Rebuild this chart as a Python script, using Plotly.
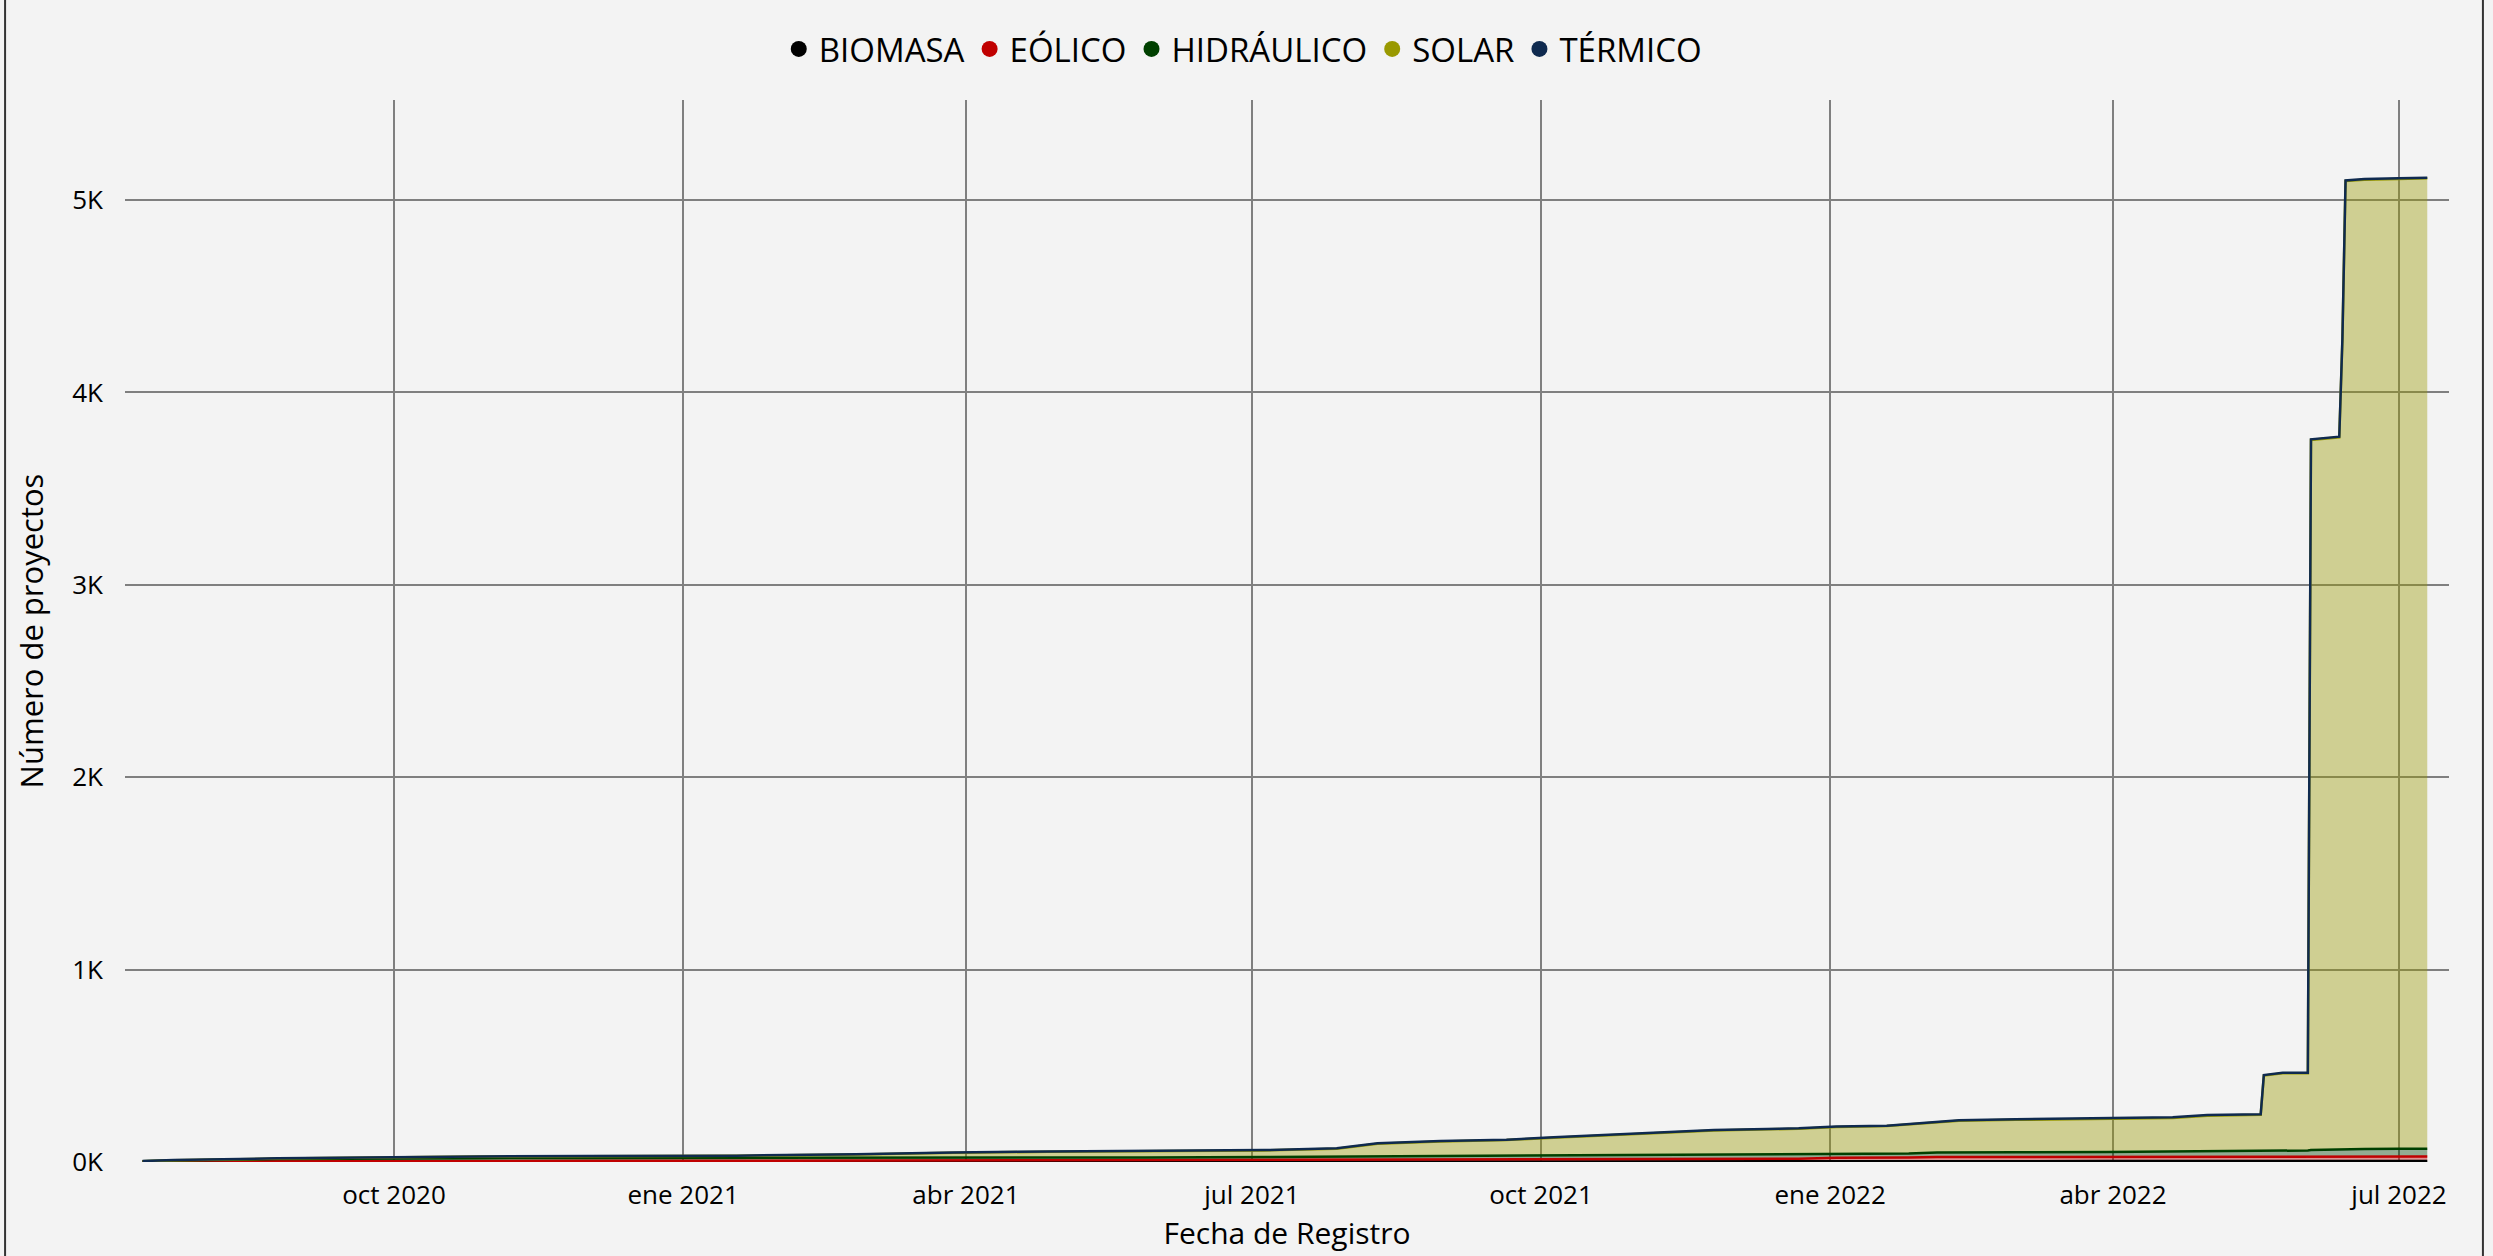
import plotly.graph_objects as go

# ---------------- data (cumulative number of projects per technology) -------------
fechas = [
    "2020-07-13", "2020-07-23", "2020-08-25", "2020-09-09", "2020-09-28", "2020-10-28",
    "2020-12-01", "2021-01-18", "2021-02-25", "2021-03-17", "2021-03-28", "2021-04-27",
    "2021-05-28", "2021-07-05", "2021-07-28", "2021-08-10", "2021-08-30", "2021-09-20",
    "2021-10-05", "2021-10-21", "2021-10-26", "2021-11-11", "2021-11-25", "2021-12-22",
    "2022-01-03", "2022-01-19", "2022-01-26", "2022-02-04", "2022-02-11", "2022-03-01",
    "2022-03-30", "2022-04-20", "2022-05-01", "2022-05-18", "2022-05-19", "2022-05-25",
    "2022-06-02", "2022-06-03", "2022-06-12", "2022-06-13", "2022-06-14", "2022-06-20",
    "2022-07-01", "2022-07-10",
]
biomasa = [1, 1, 1, 1, 2, 2, 2, 2, 2, 2, 2, 2, 2, 3, 3, 3, 3, 3, 3, 3, 3, 4, 4, 4,
           4, 4, 4, 4, 4, 4, 5, 5, 5, 5, 5, 5, 5, 5, 5, 5, 5, 5, 5, 5]
eolico = [1, 2, 3, 3, 3, 3, 4, 4, 5, 5, 6, 6, 7, 7, 7, 8, 8, 9, 9, 10, 10, 10, 11, 13,
          18, 18, 19, 22, 22, 22, 21, 22, 22, 22, 22, 23, 23, 23, 23, 23, 23, 23, 23, 23]
hidraulico = [2, 5, 11, 13, 14, 15, 15, 15, 15, 15, 15, 15, 15, 16, 18, 19, 20, 20, 21,
              21, 22, 22, 23, 23, 20, 21, 21, 23, 24, 25, 26, 27, 28, 29, 31, 32, 32, 34,
              38, 40, 40, 40, 41, 41]
solar = [0, 1, 3, 4, 6, 8, 9, 11, 17, 24, 25, 30, 33, 34, 41, 65, 76, 82, 93, 103, 107,
         116, 126, 133, 140, 144, 152, 158, 164, 168, 172, 175, 186, 189, 391, 401, 401,
         3691, 3701, 4208, 5031, 5038, 5041, 5044]
termico = [1, 1, 1, 1, 1, 1, 1, 1, 1, 1, 2, 2, 2, 2, 2, 2, 2, 2, 2, 2, 2, 2, 2, 2,
           2, 2, 2, 3, 3, 3, 3, 3, 3, 3, 3, 3, 3, 3, 3, 3, 3, 3, 3, 3]

series_nombres = ["BIOMASA", "EÓLICO", "HIDRÁULICO", "SOLAR", "TÉRMICO"]
series_valores = [biomasa, eolico, hidraulico, solar, termico]
series_colores = ["#000000", "#c00000", "#004000", "#999900", "#0f2a4f"]

y_tickvals = [0, 1000, 2000, 3000, 4000, 5000]
y_ticktext = ["0K", "1K", "2K", "3K", "4K", "5K"]
x_tickvals = ["2020-10-01", "2021-01-01", "2021-04-01", "2021-07-01",
              "2021-10-01", "2022-01-01", "2022-04-01", "2022-07-01"]
x_ticktext = ["oct 2020", "ene 2021", "abr 2021", "jul 2021",
              "oct 2021", "ene 2022", "abr 2022", "jul 2022"]


def rgba(hexc, a):
    h = hexc.lstrip("#")
    r, g, b = int(h[0:2], 16), int(h[2:4], 16), int(h[4:6], 16)
    return f"rgba({r},{g},{b},{a})"


FONT = "Open Sans, Noto Sans, DejaVu Sans, sans-serif"
BG = "#f3f3f3"
GRID = "#7f7f7f"

fig = go.Figure()
for nombre, vals, col in zip(series_nombres, series_valores, series_colores):
    fig.add_trace(go.Scatter(
        x=fechas, y=vals, name=nombre, mode="lines", stackgroup="one",
        line=dict(color=col, width=2.5), fillcolor=rgba(col, 0.4),
        legendgroup=nombre, showlegend=False,
    ))
# legend entries drawn as round markers
for nombre, col in zip(series_nombres, series_colores):
    fig.add_trace(go.Scatter(
        x=[None], y=[None], name=nombre, mode="markers",
        marker=dict(color=col, size=19, symbol="circle"),
        legendgroup=nombre, showlegend=True,
    ))

fig.update_layout(
    width=2493, height=1256,
    paper_bgcolor=BG, plot_bgcolor=BG,
    margin=dict(l=125, r=44, t=100, b=94, autoexpand=False),
    font=dict(family=FONT, size=26, color="#000000"),
    showlegend=True,
    legend=dict(
        orientation="h", xref="container", yref="container",
        x=0.4985, xanchor="center", y=1 - 49 / 1256, yanchor="middle",
        font=dict(size=33, color="#000000"), bgcolor="rgba(0,0,0,0)",
        itemsizing="trace", traceorder="normal",
    ),
    xaxis=dict(
        type="date",
        range=["2020-07-07 10:00", "2022-07-16 22:00"],
        tickvals=x_tickvals, ticktext=x_ticktext,
        showgrid=True, gridcolor=GRID, gridwidth=1.5,
        zeroline=False, showline=False, ticks="",
        ticklabelstandoff=15,
        tickfont=dict(size=26, color="#000000"),
        title=dict(text="Fecha de Registro", font=dict(size=30, color="#000000"), standoff=8),
    ),
    yaxis=dict(
        range=[0, 5520],
        tickvals=y_tickvals, ticktext=y_ticktext,
        showgrid=True, gridcolor=GRID, gridwidth=1.5,
        zeroline=False, showline=False, ticks="",
        ticklabelstandoff=21,
        tickfont=dict(size=26, color="#000000"),
        title=dict(text="Número de proyectos", font=dict(size=31, color="#000000"), standoff=19),
    ),
    shapes=[
        dict(type="line", xref="paper", yref="paper", x0=-0.0516, x1=-0.0516,
             y0=-0.2, y1=1.2, line=dict(color="#333333", width=2)),
        dict(type="line", xref="paper", yref="paper", x0=1.0146, x1=1.0146,
             y0=-0.2, y1=1.2, line=dict(color="#333333", width=2)),
    ],
)

fig.write_html(
    "out.html",
    config={"displayModeBar": False},
    post_script="document.body.style.margin='0';document.body.style.padding='0';",
)
